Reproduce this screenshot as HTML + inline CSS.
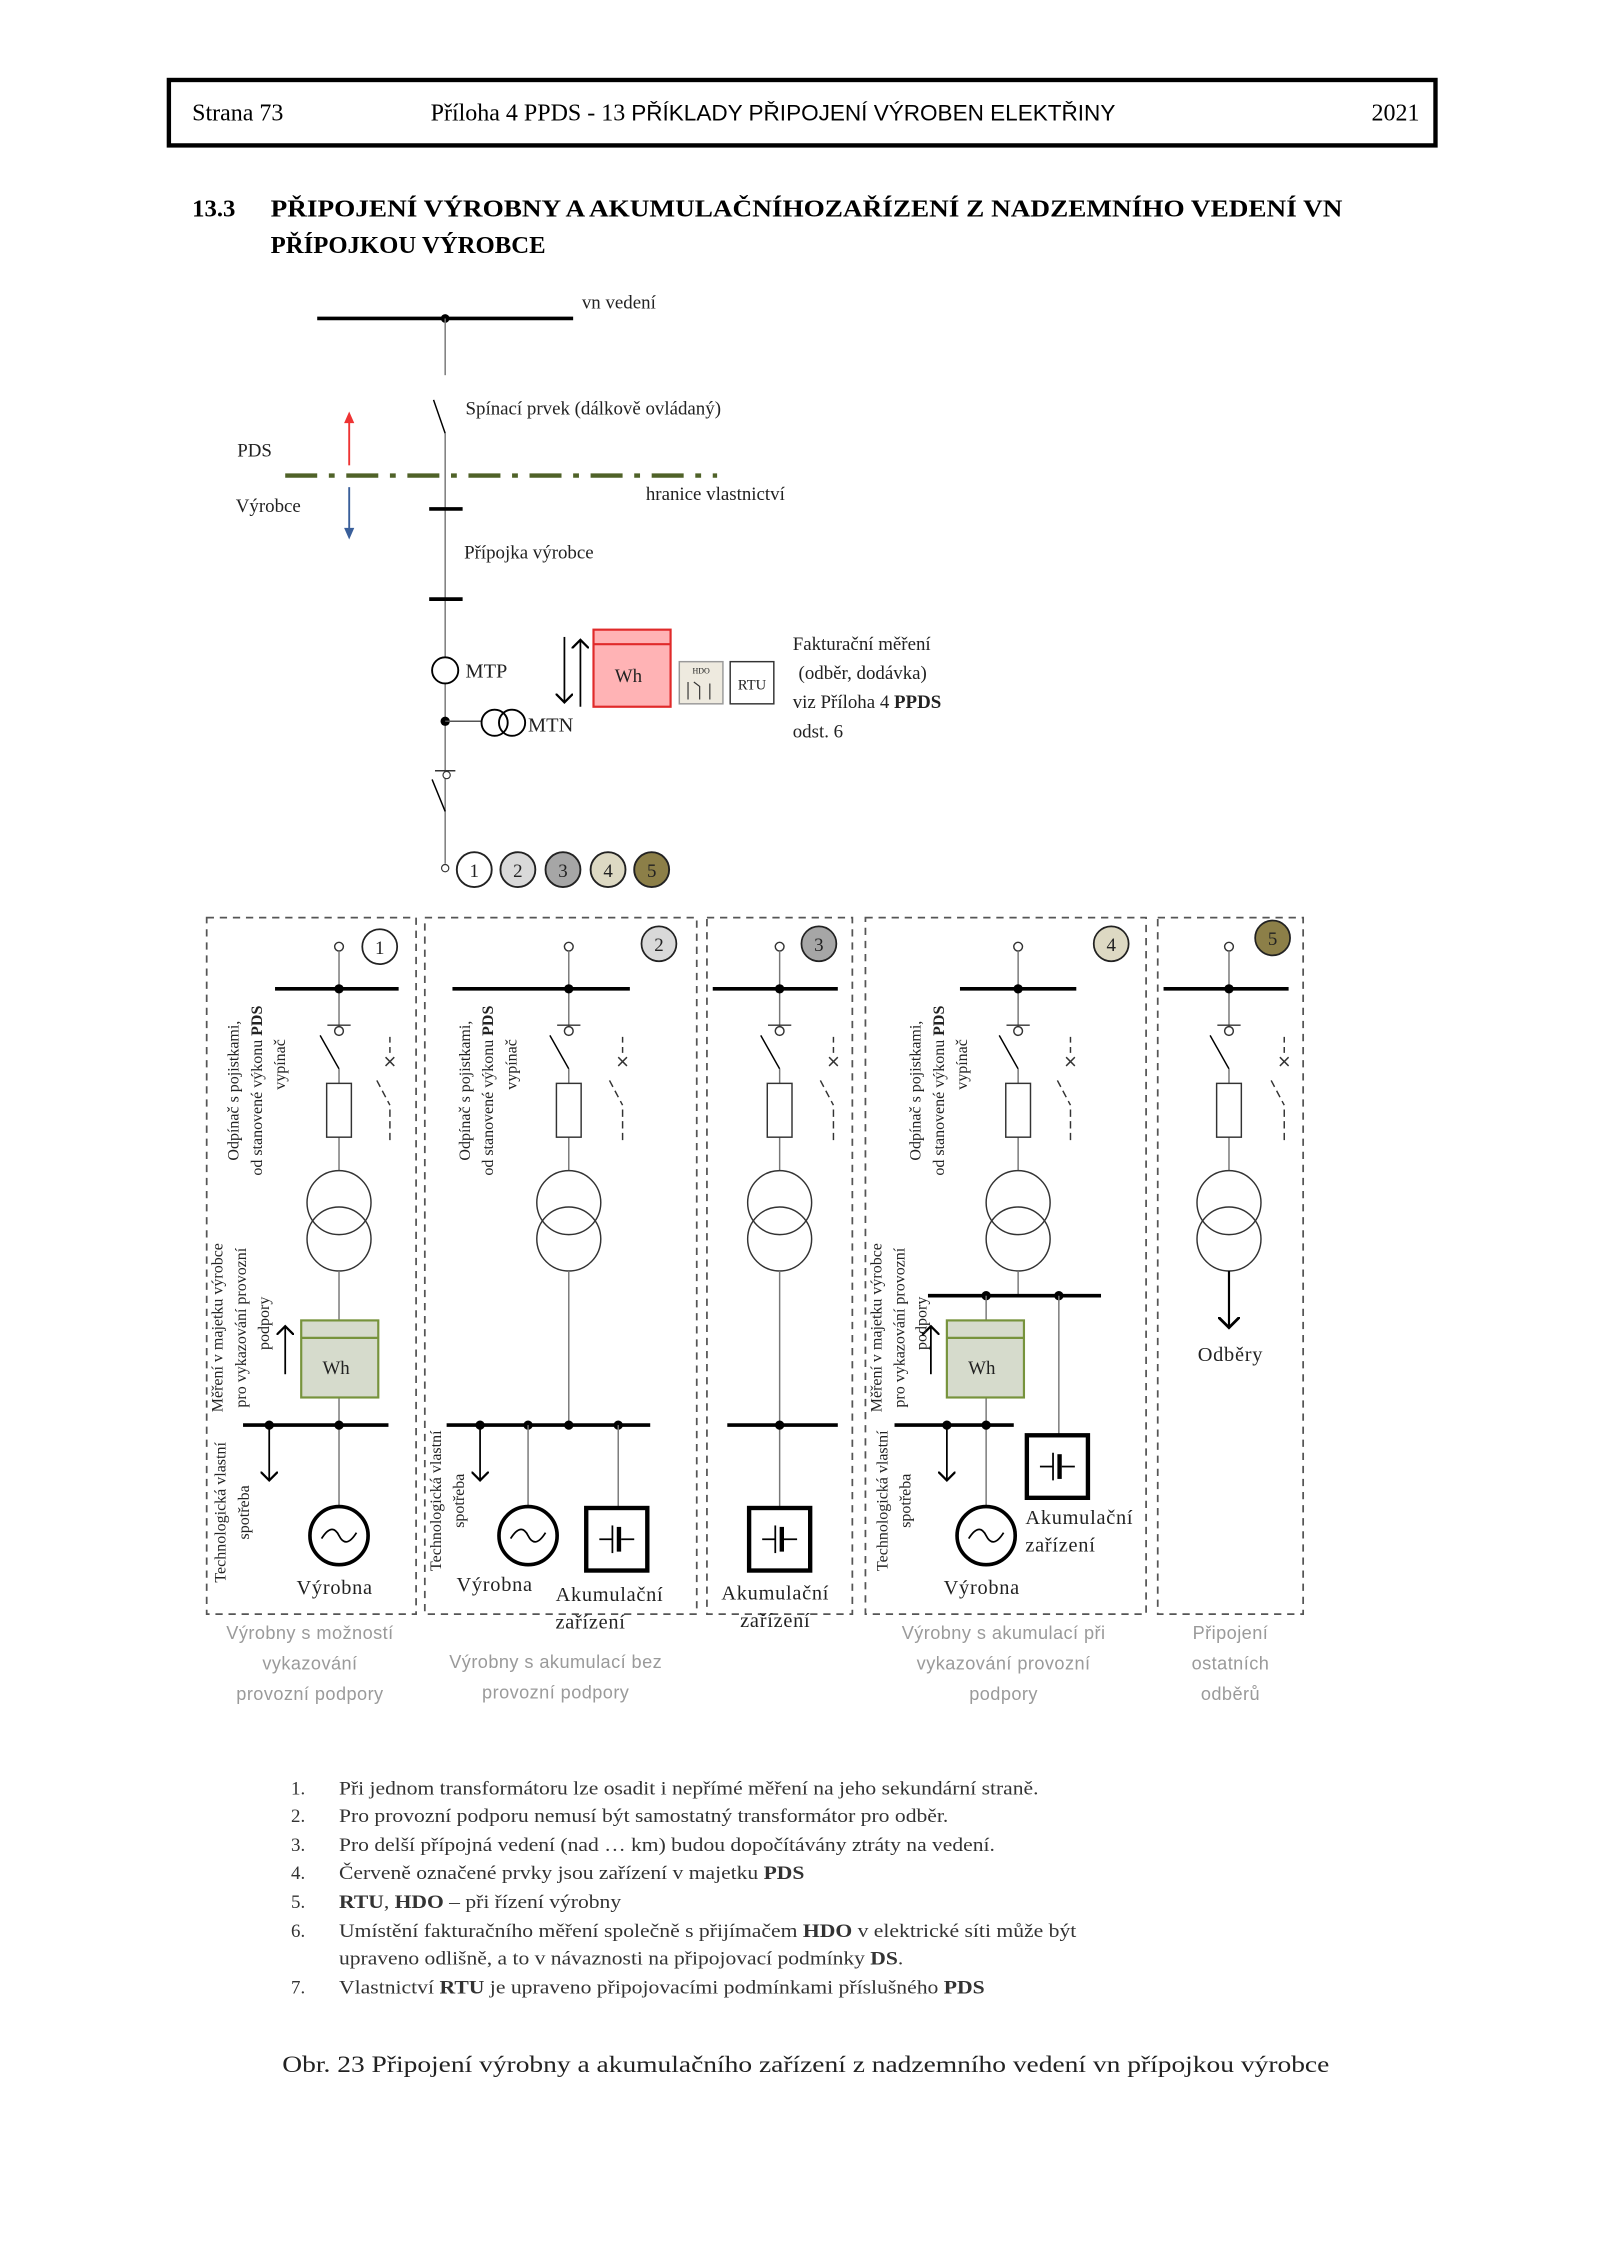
<!DOCTYPE html>
<html><head><meta charset="utf-8"><style>
html,body{margin:0;padding:0;background:#fff;}
svg{display:block;}
.s{font-family:"Liberation Serif",serif;}
.a{font-family:"Liberation Sans",sans-serif;}
</style></head><body>
<svg width="1600" height="2262" viewBox="0 0 1100 1555.5" xmlns="http://www.w3.org/2000/svg">
<defs>
<g id="top">
 <circle cx="0" cy="651" r="3" fill="#fff" stroke="#333" stroke-width="1"/>
 <line x1="0" y1="654" x2="0" y2="706" stroke="#777" stroke-width="1"/>
 <circle cx="0" cy="680" r="3.2" fill="#000"/>
 <line x1="-8" y1="705" x2="8" y2="705" stroke="#333" stroke-width="1"/>
 <circle cx="0" cy="709" r="3" fill="#fff" stroke="#333" stroke-width="1"/>
 <line x1="-13" y1="712" x2="0" y2="735" stroke="#000" stroke-width="1"/>
 <line x1="0" y1="735" x2="0" y2="805" stroke="#777" stroke-width="1"/>
 <rect x="-8.5" y="745" width="17" height="37" fill="#fff" stroke="#333" stroke-width="1"/>
 <circle cx="0" cy="827" r="22" fill="none" stroke="#333" stroke-width="1"/>
 <circle cx="0" cy="852" r="22" fill="none" stroke="#333" stroke-width="1"/>
</g>
<g id="brk" stroke="#333" stroke-width="1" fill="none">
 <line x1="0" y1="713" x2="0" y2="724" stroke-dasharray="4,3"/>
 <line x1="-3" y1="727" x2="3" y2="733"/><line x1="3" y1="727" x2="-3" y2="733"/>
 <line x1="-9" y1="743" x2="0" y2="760" stroke-dasharray="5,3"/>
 <line x1="0" y1="763" x2="0" y2="784" stroke-dasharray="5,3"/>
</g>
<g id="gen">
 <circle cx="0" cy="0" r="20" fill="#fff" stroke="#000" stroke-width="2.5"/>
 <path d="M-12,2 C-7,-6 -3,-6 0,0 S7,6 12,-2" fill="none" stroke="#000" stroke-width="1.2"/>
</g>
<g id="bat">
 <rect x="-21" y="0" width="42" height="43" fill="#fff" stroke="#000" stroke-width="3"/>
 <line x1="-12" y1="21.5" x2="-3" y2="21.5" stroke="#000" stroke-width="1.2"/>
 <line x1="-3" y1="12" x2="-3" y2="31" stroke="#000" stroke-width="1.2"/>
 <rect x="0" y="13" width="3" height="17" fill="#000"/>
 <line x1="3" y1="21.5" x2="12" y2="21.5" stroke="#000" stroke-width="1.2"/>
</g>
<marker id="ar" markerWidth="10" markerHeight="10" refX="5" refY="5" orient="auto"><path d="M0,0 L5,5 L0,10" fill="none" stroke="#000" stroke-width="1.3"/></marker>
</defs>

<!-- header -->
<rect x="116" y="55" width="871" height="45" fill="none" stroke="#000" stroke-width="3"/>
<text x="132" y="83" class="s" font-size="16.5">Strana 73</text>
<text x="296" y="83" class="s" font-size="16.5">Příloha 4 PPDS - 13 <tspan class="a" font-size="15.5">PŘÍKLADY PŘIPOJENÍ VÝROBEN ELEKTŘINY</tspan></text>
<text x="976" y="83" class="s" font-size="16.5" text-anchor="end">2021</text>

<text x="132" y="149" class="s" font-size="17" font-weight="bold">13.3</text>
<text x="186" y="149" class="s" font-size="17" font-weight="bold" textLength="737" lengthAdjust="spacingAndGlyphs">PŘIPOJENÍ VÝROBNY A AKUMULAČNÍHOZAŘÍZENÍ Z NADZEMNÍHO VEDENÍ VN</text>
<text x="186" y="174" class="s" font-size="17" font-weight="bold">PŘÍPOJKOU VÝROBCE</text>

<!-- top diagram -->
<g class="s" font-size="13" fill="#222">
<line x1="218" y1="219" x2="394" y2="219" stroke="#000" stroke-width="2.5"/>
<circle cx="306" cy="219" r="3" fill="#000"/>
<line x1="306" y1="219" x2="306" y2="258" stroke="#777" stroke-width="1"/>
<text x="400" y="212">vn vedení</text>
<line x1="298" y1="275" x2="306" y2="298" stroke="#000" stroke-width="1"/>
<line x1="306" y1="298" x2="306" y2="594" stroke="#777" stroke-width="1"/>
<text x="320" y="285">Spínací prvek (dálkově ovládaný)</text>
<line x1="240" y1="320" x2="240" y2="290" stroke="#e33" stroke-width="1.3"/>
<path d="M236.5,291 L240,283 L243.5,291 Z" fill="#e33"/>
<line x1="240" y1="335" x2="240" y2="364" stroke="#3a5f9a" stroke-width="1.3"/>
<path d="M236.5,363 L240,371 L243.5,363 Z" fill="#3a5f9a"/>
<text x="163" y="314">PDS</text>
<text x="162" y="352">Výrobce</text>
<line x1="196" y1="327" x2="493" y2="327" stroke="#4f6228" stroke-width="3" stroke-dasharray="22,8,4,8"/>
<text x="444" y="344">hranice vlastnictví</text>
<line x1="295" y1="350" x2="318" y2="350" stroke="#000" stroke-width="2.5"/>
<line x1="295" y1="412" x2="318" y2="412" stroke="#000" stroke-width="2.5"/>
<text x="319" y="384">Přípojka výrobce</text>
<circle cx="306" cy="461" r="9" fill="#fff" stroke="#000" stroke-width="1.3"/>
<text x="320" y="466" font-size="14">MTP</text>
<circle cx="306" cy="496" r="3.2" fill="#000"/>
<line x1="306" y1="496" x2="331" y2="496" stroke="#555" stroke-width="1"/>
<circle cx="340" cy="497" r="9" fill="none" stroke="#000" stroke-width="1.3"/>
<circle cx="352" cy="497" r="9" fill="none" stroke="#000" stroke-width="1.3"/>
<text x="363" y="503" font-size="14">MTN</text>
<line x1="388" y1="438" x2="388" y2="483" stroke="#000" stroke-width="1.2" marker-end="url(#ar)"/>
<line x1="399" y1="486" x2="399" y2="440" stroke="#000" stroke-width="1.2" marker-end="url(#ar)"/>
<rect x="408" y="433" width="53" height="53" fill="#ffb3b5" stroke="#e02a2a" stroke-width="1.5"/>
<line x1="408" y1="443" x2="461" y2="443" stroke="#e02a2a" stroke-width="1.5"/>
<text x="432" y="469" text-anchor="middle">Wh</text>
<rect x="467" y="455" width="30" height="29" fill="#eeeadf" stroke="#999" stroke-width="1"/>
<text x="482" y="463" font-size="5.5" text-anchor="middle">HDO</text>
<path d="M473,481 V469 M477,469 L481,472 V481 M488,470 V481" stroke="#333" stroke-width="0.8" fill="none"/>
<rect x="502" y="455" width="30" height="29" fill="#fff" stroke="#333" stroke-width="1"/>
<text x="517" y="474" font-size="10" text-anchor="middle">RTU</text>
<text x="545" y="447">Fakturační měření</text>
<text x="549" y="467">(odběr, dodávka)</text>
<text x="545" y="487">viz Příloha 4 <tspan font-weight="bold">PPDS</tspan></text>
<text x="545" y="507">odst. 6</text>
<line x1="299" y1="530" x2="313" y2="530" stroke="#333" stroke-width="1"/>
<circle cx="307" cy="533" r="2.5" fill="#fff" stroke="#333" stroke-width="0.8"/>
<line x1="297" y1="536" x2="306" y2="558" stroke="#000" stroke-width="1"/>
<circle cx="306" cy="597" r="2.5" fill="#fff" stroke="#333" stroke-width="0.8"/>
<circle cx="326" cy="598" r="12" fill="#fff" stroke="#222" stroke-width="1.3"/>
<circle cx="356" cy="598" r="12" fill="#d9d9d9" stroke="#222" stroke-width="1.3"/>
<circle cx="387" cy="598" r="12" fill="#a6a6a6" stroke="#222" stroke-width="1.3"/>
<circle cx="418" cy="598" r="12" fill="#ddd9c3" stroke="#222" stroke-width="1.3"/>
<circle cx="448" cy="598" r="12" fill="#8c7f48" stroke="#222" stroke-width="1.3"/>
<text x="326" y="603" text-anchor="middle">1</text>
<text x="356" y="603" text-anchor="middle">2</text>
<text x="387" y="603" text-anchor="middle">3</text>
<text x="418" y="603" text-anchor="middle">4</text>
<text x="448" y="603" text-anchor="middle">5</text>
</g>

<!-- panels -->
<g fill="none" stroke="#555" stroke-width="1.2" stroke-dasharray="5,4">
<rect x="142" y="631" width="144" height="479"/>
<rect x="292" y="631" width="187" height="479"/>
<rect x="486" y="631" width="100" height="479"/>
<rect x="595" y="631" width="193" height="479"/>
<rect x="796" y="631" width="100" height="479"/>
</g>

<g class="s" font-size="13" fill="#222">
<!-- number circles -->
<circle cx="261" cy="651" r="12" fill="#fff" stroke="#222" stroke-width="1.2"/><text x="261" y="656" text-anchor="middle">1</text>
<circle cx="453" cy="649" r="12" fill="#d9d9d9" stroke="#222" stroke-width="1.2"/><text x="453" y="654" text-anchor="middle">2</text>
<circle cx="563" cy="649" r="12" fill="#a6a6a6" stroke="#222" stroke-width="1.2"/><text x="563" y="654" text-anchor="middle">3</text>
<circle cx="764" cy="649" r="12" fill="#ddd9c3" stroke="#222" stroke-width="1.2"/><text x="764" y="654" text-anchor="middle">4</text>
<circle cx="875" cy="645" r="12" fill="#8c7f48" stroke="#222" stroke-width="1.2"/><text x="875" y="650" text-anchor="middle">5</text>

<!-- Panel 1 -->
<line x1="189" y1="680" x2="274" y2="680" stroke="#000" stroke-width="2.5"/>
<use href="#top" x="233"/><use href="#brk" x="268"/>
<line x1="233" y1="874" x2="233" y2="1036" stroke="#777" stroke-width="1"/>
<rect x="207" y="908" width="53" height="53" fill="#d6dbcc" stroke="#77933c" stroke-width="1.5"/>
<line x1="207" y1="920" x2="260" y2="920" stroke="#77933c" stroke-width="1.5"/>
<text x="231" y="945" text-anchor="middle">Wh</text>
<line x1="196" y1="945" x2="196" y2="912" stroke="#000" stroke-width="1.2" marker-end="url(#ar)"/>
<line x1="167" y1="980" x2="267" y2="980" stroke="#000" stroke-width="2.5"/>
<circle cx="185" cy="980" r="3.2" fill="#000"/><circle cx="233" cy="980" r="3.2" fill="#000"/>
<line x1="185" y1="980" x2="185" y2="1018" stroke="#000" stroke-width="1.2" marker-end="url(#ar)"/>
<use href="#gen" x="233" y="1056"/>
<text x="230" y="1096" text-anchor="middle" font-size="14" letter-spacing="0.5">Výrobna</text>
<g font-size="11">
<text transform="translate(164,750) rotate(-90)" text-anchor="middle">Odpínač s pojistkami,</text>
<text transform="translate(180,750) rotate(-90)" text-anchor="middle">od stanovené výkonu <tspan font-weight="bold">PDS</tspan></text>
<text transform="translate(196,732) rotate(-90)" text-anchor="middle">vypínač</text>
<text transform="translate(153,913) rotate(-90)" text-anchor="middle">Měření v majetku výrobce</text>
<text transform="translate(169,913) rotate(-90)" text-anchor="middle">pro vykazování provozní</text>
<text transform="translate(185,910) rotate(-90)" text-anchor="middle">podpory</text>
<text transform="translate(155,1040) rotate(-90)" text-anchor="middle">Technologická vlastní</text>
<text transform="translate(171,1040) rotate(-90)" text-anchor="middle">spotřeba</text>
</g>

<!-- Panel 2 -->
<line x1="311" y1="680" x2="433" y2="680" stroke="#000" stroke-width="2.5"/>
<use href="#top" x="391"/><use href="#brk" x="428"/>
<line x1="391" y1="874" x2="391" y2="980" stroke="#777" stroke-width="1"/>
<line x1="307" y1="980" x2="447" y2="980" stroke="#000" stroke-width="2.5"/>
<circle cx="330" cy="980" r="3.2" fill="#000"/><circle cx="363" cy="980" r="3.2" fill="#000"/><circle cx="391" cy="980" r="3.2" fill="#000"/><circle cx="425" cy="980" r="3.2" fill="#000"/>
<line x1="330" y1="980" x2="330" y2="1018" stroke="#000" stroke-width="1.2" marker-end="url(#ar)"/>
<line x1="363" y1="980" x2="363" y2="1036" stroke="#777" stroke-width="1"/>
<line x1="425" y1="980" x2="425" y2="1036" stroke="#777" stroke-width="1"/>
<use href="#gen" x="363" y="1056"/>
<use href="#bat" x="424" y="1037"/>
<text x="340" y="1094" text-anchor="middle" font-size="14" letter-spacing="0.5">Výrobna</text>
<text x="419" y="1101" text-anchor="middle" font-size="14" letter-spacing="0.5">Akumulační</text>
<text x="406" y="1120" text-anchor="middle" font-size="14" letter-spacing="0.5">zařízení</text>
<g font-size="11">
<text transform="translate(323,750) rotate(-90)" text-anchor="middle">Odpínač s pojistkami,</text>
<text transform="translate(339,750) rotate(-90)" text-anchor="middle">od stanovené výkonu <tspan font-weight="bold">PDS</tspan></text>
<text transform="translate(355,732) rotate(-90)" text-anchor="middle">vypínač</text>
<text transform="translate(303,1032) rotate(-90)" text-anchor="middle">Technologická vlastní</text>
<text transform="translate(319,1032) rotate(-90)" text-anchor="middle">spotřeba</text>
</g>

<!-- Panel 3 -->
<line x1="490" y1="680" x2="576" y2="680" stroke="#000" stroke-width="2.5"/>
<use href="#top" x="536"/><use href="#brk" x="573"/>
<line x1="536" y1="874" x2="536" y2="1036" stroke="#777" stroke-width="1"/>
<line x1="500" y1="980" x2="576" y2="980" stroke="#000" stroke-width="2.5"/>
<circle cx="536" cy="980" r="3.2" fill="#000"/>
<use href="#bat" x="536" y="1037"/>
<text x="533" y="1100" text-anchor="middle" font-size="14" letter-spacing="0.5">Akumulační</text>
<text x="533" y="1119" text-anchor="middle" font-size="14" letter-spacing="0.5">zařízení</text>

<!-- Panel 4 -->
<line x1="660" y1="680" x2="740" y2="680" stroke="#000" stroke-width="2.5"/>
<use href="#top" x="700"/><use href="#brk" x="736"/>
<line x1="700" y1="874" x2="700" y2="891" stroke="#777" stroke-width="1"/>
<line x1="638" y1="891" x2="757" y2="891" stroke="#000" stroke-width="2.5"/>
<circle cx="678" cy="891" r="3.2" fill="#000"/><circle cx="728" cy="891" r="3.2" fill="#000"/>
<line x1="678" y1="891" x2="678" y2="1036" stroke="#777" stroke-width="1"/>
<line x1="728" y1="891" x2="728" y2="987" stroke="#777" stroke-width="1"/>
<rect x="651" y="908" width="53" height="53" fill="#d6dbcc" stroke="#77933c" stroke-width="1.5"/>
<line x1="651" y1="920" x2="704" y2="920" stroke="#77933c" stroke-width="1.5"/>
<text x="675" y="945" text-anchor="middle">Wh</text>
<line x1="640" y1="945" x2="640" y2="912" stroke="#000" stroke-width="1.2" marker-end="url(#ar)"/>
<line x1="615" y1="980" x2="697" y2="980" stroke="#000" stroke-width="2.5"/>
<circle cx="651" cy="980" r="3.2" fill="#000"/><circle cx="678" cy="980" r="3.2" fill="#000"/>
<line x1="651" y1="980" x2="651" y2="1018" stroke="#000" stroke-width="1.2" marker-end="url(#ar)"/>
<use href="#gen" x="678" y="1056"/>
<use href="#bat" x="727" y="987"/>
<text x="705" y="1048" font-size="14" letter-spacing="0.5">Akumulační</text>
<text x="705" y="1067" font-size="14" letter-spacing="0.5">zařízení</text>
<text x="675" y="1096" text-anchor="middle" font-size="14" letter-spacing="0.5">Výrobna</text>
<g font-size="11">
<text transform="translate(633,750) rotate(-90)" text-anchor="middle">Odpínač s pojistkami,</text>
<text transform="translate(649,750) rotate(-90)" text-anchor="middle">od stanovené výkonu <tspan font-weight="bold">PDS</tspan></text>
<text transform="translate(665,732) rotate(-90)" text-anchor="middle">vypínač</text>
<text transform="translate(606,913) rotate(-90)" text-anchor="middle">Měření v majetku výrobce</text>
<text transform="translate(622,913) rotate(-90)" text-anchor="middle">pro vykazování provozní</text>
<text transform="translate(637,910) rotate(-90)" text-anchor="middle">podpory</text>
<text transform="translate(610,1032) rotate(-90)" text-anchor="middle">Technologická vlastní</text>
<text transform="translate(626,1032) rotate(-90)" text-anchor="middle">spotřeba</text>
</g>

<!-- Panel 5 -->
<line x1="800" y1="680" x2="886" y2="680" stroke="#000" stroke-width="2.5"/>
<use href="#top" x="845"/><use href="#brk" x="883"/>
<line x1="845" y1="874" x2="845" y2="913" stroke="#000" stroke-width="1.5" marker-end="url(#ar)"/>
<text x="846" y="936" text-anchor="middle" font-size="14" letter-spacing="0.5">Odběry</text>
</g>

<!-- captions -->
<g class="a" font-size="12.5" fill="#9a9a9a" text-anchor="middle" letter-spacing="0.3">
<text x="213" y="1127">Výrobny s možností</text>
<text x="213" y="1148">vykazování</text>
<text x="213" y="1169">provozní podpory</text>
<text x="382" y="1147">Výrobny s akumulací bez</text>
<text x="382" y="1168">provozní podpory</text>
<text x="690" y="1127">Výrobny s akumulací při</text>
<text x="690" y="1148">vykazování provozní</text>
<text x="690" y="1169">podpory</text>
<text x="846" y="1127">Připojení</text>
<text x="846" y="1148">ostatních</text>
<text x="846" y="1169">odběrů</text>
</g>

<!-- notes -->
<g class="s" font-size="13" fill="#333">
<text x="200" y="1234">1.</text><text x="233" y="1234" textLength="481" lengthAdjust="spacingAndGlyphs">Při jednom transformátoru lze osadit i nepřímé měření na jeho sekundární straně.</text>
<text x="200" y="1253">2.</text><text x="233" y="1253" textLength="419" lengthAdjust="spacingAndGlyphs">Pro provozní podporu nemusí být samostatný transformátor pro odběr.</text>
<text x="200" y="1273">3.</text><text x="233" y="1273" textLength="451" lengthAdjust="spacingAndGlyphs">Pro delší přípojná vedení (nad … km) budou dopočítávány ztráty na vedení.</text>
<text x="200" y="1292">4.</text><text x="233" y="1292" textLength="320" lengthAdjust="spacingAndGlyphs">Červeně označené prvky jsou zařízení v majetku <tspan font-weight="bold">PDS</tspan></text>
<text x="200" y="1312">5.</text><text x="233" y="1312" textLength="194" lengthAdjust="spacingAndGlyphs"><tspan font-weight="bold">RTU</tspan>, <tspan font-weight="bold">HDO</tspan> – při řízení výrobny</text>
<text x="200" y="1332">6.</text><text x="233" y="1332" textLength="507" lengthAdjust="spacingAndGlyphs">Umístění fakturačního měření společně s přijímačem <tspan font-weight="bold">HDO</tspan> v elektrické síti může být</text>
<text x="233" y="1351" textLength="388" lengthAdjust="spacingAndGlyphs">upraveno odlišně, a to v návaznosti na připojovací podmínky <tspan font-weight="bold">DS</tspan>.</text>
<text x="200" y="1371">7.</text><text x="233" y="1371" textLength="444" lengthAdjust="spacingAndGlyphs">Vlastnictví <tspan font-weight="bold">RTU</tspan> je upraveno připojovacími podmínkami příslušného <tspan font-weight="bold">PDS</tspan></text>
</g>
<text x="194" y="1425" class="s" font-size="16" fill="#222" textLength="720" lengthAdjust="spacingAndGlyphs">Obr. 23   Připojení výrobny a akumulačního zařízení z nadzemního vedení vn přípojkou výrobce</text>
</svg>
</body></html>
